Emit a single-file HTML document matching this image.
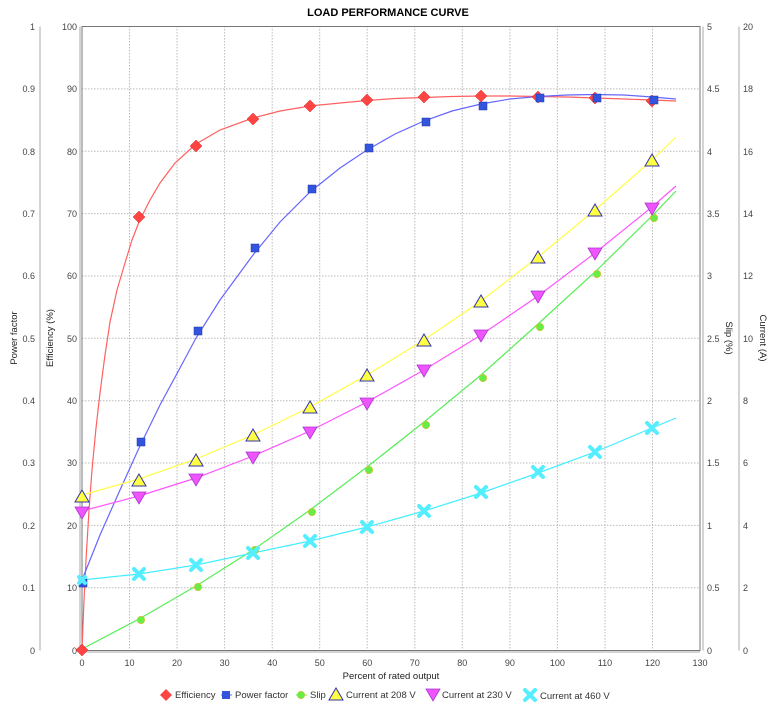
<!DOCTYPE html>
<html><head><meta charset="utf-8"><style>
body{margin:0;background:#fff;}
svg{display:block;font-family:"Liberation Sans","DejaVu Sans",sans-serif;}
</style></head><body>
<svg width="774" height="711" viewBox="0 0 774 711" xmlns="http://www.w3.org/2000/svg">
<text x="388" y="16" text-anchor="middle" font-size="11" font-weight="bold" fill="#000">LOAD PERFORMANCE CURVE</text>
<g stroke="#bbb" stroke-dasharray="1.5,1.5" stroke-width="1">
<line x1="82" y1="26.5" x2="700" y2="26.5"/><line x1="82" y1="88.9" x2="700" y2="88.9"/><line x1="82" y1="151.2" x2="700" y2="151.2"/><line x1="82" y1="213.6" x2="700" y2="213.6"/><line x1="82" y1="276" x2="700" y2="276"/><line x1="82" y1="338.3" x2="700" y2="338.3"/><line x1="82" y1="400.7" x2="700" y2="400.7"/><line x1="82" y1="463" x2="700" y2="463"/><line x1="82" y1="525.4" x2="700" y2="525.4"/><line x1="82" y1="587.8" x2="700" y2="587.8"/>
<line x1="129.5" y1="26" x2="129.5" y2="650"/><line x1="177" y1="26" x2="177" y2="650"/><line x1="224.6" y1="26" x2="224.6" y2="650"/><line x1="272.2" y1="26" x2="272.2" y2="650"/><line x1="319.7" y1="26" x2="319.7" y2="650"/><line x1="367.2" y1="26" x2="367.2" y2="650"/><line x1="414.8" y1="26" x2="414.8" y2="650"/><line x1="462.3" y1="26" x2="462.3" y2="650"/><line x1="509.9" y1="26" x2="509.9" y2="650"/><line x1="557.4" y1="26" x2="557.4" y2="650"/><line x1="605" y1="26" x2="605" y2="650"/><line x1="652.5" y1="26" x2="652.5" y2="650"/>
</g>
<rect x="82" y="26.5" width="618" height="624" fill="none" stroke="#777" stroke-width="1"/>
<g stroke="#aaa" stroke-width="1" fill="none">
<line x1="40" y1="26.5" x2="40" y2="650.5"/><line x1="80" y1="26.5" x2="80" y2="650.5"/>
<line x1="703" y1="26.5" x2="703" y2="650.5"/><line x1="739" y1="26.5" x2="739" y2="650.5"/>
<line x1="82" y1="652" x2="700" y2="652"/>
</g>
<g font-size="9" fill="#444">
<g text-anchor="end">
<text x="35" y="30">1</text><text x="35" y="92">0.9</text><text x="35" y="155">0.8</text><text x="35" y="217">0.7</text><text x="35" y="279">0.6</text><text x="35" y="342">0.5</text><text x="35" y="404">0.4</text><text x="35" y="466">0.3</text><text x="35" y="529">0.2</text><text x="35" y="591">0.1</text><text x="35" y="654">0</text>
<text x="77" y="30">100</text><text x="77" y="92">90</text><text x="77" y="155">80</text><text x="77" y="217">70</text><text x="77" y="279">60</text><text x="77" y="342">50</text><text x="77" y="404">40</text><text x="77" y="466">30</text><text x="77" y="529">20</text><text x="77" y="591">10</text><text x="77" y="654">0</text>
</g>
<g text-anchor="start">
<text x="707" y="30">5</text><text x="707" y="92">4.5</text><text x="707" y="155">4</text><text x="707" y="217">3.5</text><text x="707" y="279">3</text><text x="707" y="342">2.5</text><text x="707" y="404">2</text><text x="707" y="466">1.5</text><text x="707" y="529">1</text><text x="707" y="591">0.5</text><text x="707" y="654">0</text>
<text x="743" y="30">20</text><text x="743" y="92">18</text><text x="743" y="155">16</text><text x="743" y="217">14</text><text x="743" y="279">12</text><text x="743" y="342">10</text><text x="743" y="404">8</text><text x="743" y="466">6</text><text x="743" y="529">4</text><text x="743" y="591">2</text><text x="743" y="654">0</text>
</g>
<g text-anchor="middle">
<text x="82" y="666">0</text><text x="129.5" y="666">10</text><text x="177" y="666">20</text><text x="224.6" y="666">30</text><text x="272.2" y="666">40</text><text x="319.7" y="666">50</text><text x="367.2" y="666">60</text><text x="414.8" y="666">70</text><text x="462.3" y="666">80</text><text x="509.9" y="666">90</text><text x="557.4" y="666">100</text><text x="605" y="666">110</text><text x="652.5" y="666">120</text><text x="700" y="666">130</text>
</g>
</g>
<g font-size="9.5" fill="#222" text-anchor="middle">
<text x="391" y="679">Percent of rated output</text>
<text transform="translate(17,338) rotate(-90)">Power factor</text>
<text transform="translate(53,338) rotate(-90)">Efficiency (%)</text>
<text transform="translate(726,338) rotate(90)">Slip (%)</text>
<text transform="translate(760,338) rotate(90)">Current (A)</text>
</g>
<g fill="none" stroke-width="1.2">
<polyline stroke="#ff6060" points="82,650 84,600 86,560 89,510 92,470 96,428 100,393 105,355 110,322 117,290 125,263 132,240 139,222 150,200 160,183 175,163 196,144 220,130 253,118 280,111 310,106 340,103 367,100.5 395,98.5 424,97.5 452,96.5 481,96 510,96 538,96.5 567,97 595,98 624,99 652,100 676,101"/>
<polyline stroke="#6666ff" points="82,580 100,535 120,490 139,448 160,405 180,368 196,338 220,300 253,255 280,222 310,192 340,168 367,150 395,134 424,121 452,111 481,104 510,99 538,96.5 567,95 595,94.5 624,95 652,97 676,99"/>
<polyline stroke="#55ee55" points="82,649 139,619 196,586 253,550 310,510 367,467 424,422 481,375 538,324 595,272 652,216 676,191"/>
<polyline stroke="#ffff44" points="82,495 139,479 196,459 253,435 310,407 367,375 424,340 481,301 538,257 595,210 652,160 676,137"/>
<polyline stroke="#ff55ff" points="82,511 139,496 196,478 253,456 310,431 367,402 424,370 481,335 538,296 595,253 652,207 676,186"/>
<polyline stroke="#44eeff" points="82,580 139,574 196,565 253,553 310,541 367,527 424,511 481,493 538,473 595,452 652,428 676,418"/>
</g>
<g fill="#ff4444" stroke="#dd2222" stroke-width="0.5">
<path d="M82,644l6,6-6,6-6-6z"/><path d="M139,211l6,6-6,6-6-6z"/><path d="M196,140l6,6-6,6-6-6z"/><path d="M253,113l6,6-6,6-6-6z"/><path d="M310,100l6,6-6,6-6-6z"/><path d="M367,94l6,6-6,6-6-6z"/><path d="M424,91l6,6-6,6-6-6z"/><path d="M481,90l6,6-6,6-6-6z"/><path d="M538,91l6,6-6,6-6-6z"/><path d="M595,92l6,6-6,6-6-6z"/><path d="M652,95l6,6-6,6-6-6z"/>
</g>
<g fill="#3355dd" stroke="#2233aa" stroke-width="0.5">
<rect x="79" y="579" width="8" height="8"/><rect x="137" y="438" width="8" height="8"/><rect x="194" y="327" width="8" height="8"/><rect x="251" y="244" width="8" height="8"/><rect x="308" y="185" width="8" height="8"/><rect x="365" y="144" width="8" height="8"/><rect x="422" y="118" width="8" height="8"/><rect x="479" y="102" width="8" height="8"/><rect x="536" y="94" width="8" height="8"/><rect x="593" y="94" width="8" height="8"/><rect x="650" y="96" width="8" height="8"/>
</g>
<g fill="#66ee44" stroke="#ddbb33" stroke-width="0.6">
<circle cx="141" cy="620" r="3.7"/><circle cx="198" cy="587" r="3.7"/><circle cx="255" cy="550" r="3.7"/><circle cx="312" cy="512" r="3.7"/><circle cx="369" cy="470" r="3.7"/><circle cx="426" cy="425" r="3.7"/><circle cx="483" cy="378" r="3.7"/><circle cx="540" cy="327" r="3.7"/><circle cx="597" cy="274" r="3.7"/><circle cx="654" cy="218" r="3.7"/>
</g>
<g fill="#ffff44" stroke="#3333aa" stroke-width="1">
<path d="M82,490l7,12h-14z"/><path d="M139,474l7,12h-14z"/><path d="M196,454l7,12h-14z"/><path d="M253,429l7,12h-14z"/><path d="M310,401l7,12h-14z"/><path d="M367,369l7,12h-14z"/><path d="M424,334l7,12h-14z"/><path d="M481,295l7,12h-14z"/><path d="M538,251l7,12h-14z"/><path d="M595,204l7,12h-14z"/><path d="M652,154l7,12h-14z"/>
</g>
<g fill="#ee55ff" stroke="#aa33cc" stroke-width="0.8">
<path d="M75,507h14l-7,12z"/><path d="M132,492h14l-7,12z"/><path d="M189,474h14l-7,12z"/><path d="M246,452h14l-7,12z"/><path d="M303,427h14l-7,12z"/><path d="M360,398h14l-7,12z"/><path d="M417,365h14l-7,12z"/><path d="M474,330h14l-7,12z"/><path d="M531,291h14l-7,12z"/><path d="M588,248h14l-7,12z"/><path d="M645,203h14l-7,12z"/>
</g>
<g stroke="#55eeff" stroke-width="4" stroke-linecap="round">
<path d="M134,569l10,10M144,569l-10,10"/><path d="M191,560l10,10M201,560l-10,10"/><path d="M248,548l10,10M258,548l-10,10"/><path d="M305,536l10,10M315,536l-10,10"/><path d="M362,522l10,10M372,522l-10,10"/><path d="M419,506l10,10M429,506l-10,10"/><path d="M476,487l10,10M486,487l-10,10"/><path d="M533,467l10,10M543,467l-10,10"/><path d="M590,447l10,10M600,447l-10,10"/><path d="M647,423l10,10M657,423l-10,10"/>
<path d="M79,577l6,6M85,577l-6,6"/>
</g>
<g font-size="9.5" fill="#333">
<path d="M166,689l6,6-6,6-6-6z" fill="#ff4444"/><text x="175" y="698">Efficiency</text>
<line x1="221" y1="695" x2="232" y2="695" stroke="#6666ff"/><rect x="222" y="691" width="8" height="8" fill="#3355dd"/><text x="235" y="698">Power factor</text>
<line x1="296" y1="695" x2="307" y2="695" stroke="#55ee55"/><circle cx="301" cy="695" r="3.7" fill="#66ee44" stroke="#ddbb33" stroke-width="0.6"/><text x="310" y="698">Slip</text>
<path d="M336,688l7,12h-14z" fill="#ffff44" stroke="#3333aa"/><text x="346" y="698">Current at 208 V</text>
<path d="M426,689h14l-7,12z" fill="#ee55ff" stroke="#aa33cc" stroke-width="0.8"/><text x="442" y="698">Current at 230 V</text>
<path d="M525,690l10,10M535,690l-10,10" stroke="#55eeff" stroke-width="4" stroke-linecap="round"/><text x="540" y="699">Current at 460 V</text>
</g>
</svg>
</body></html>
